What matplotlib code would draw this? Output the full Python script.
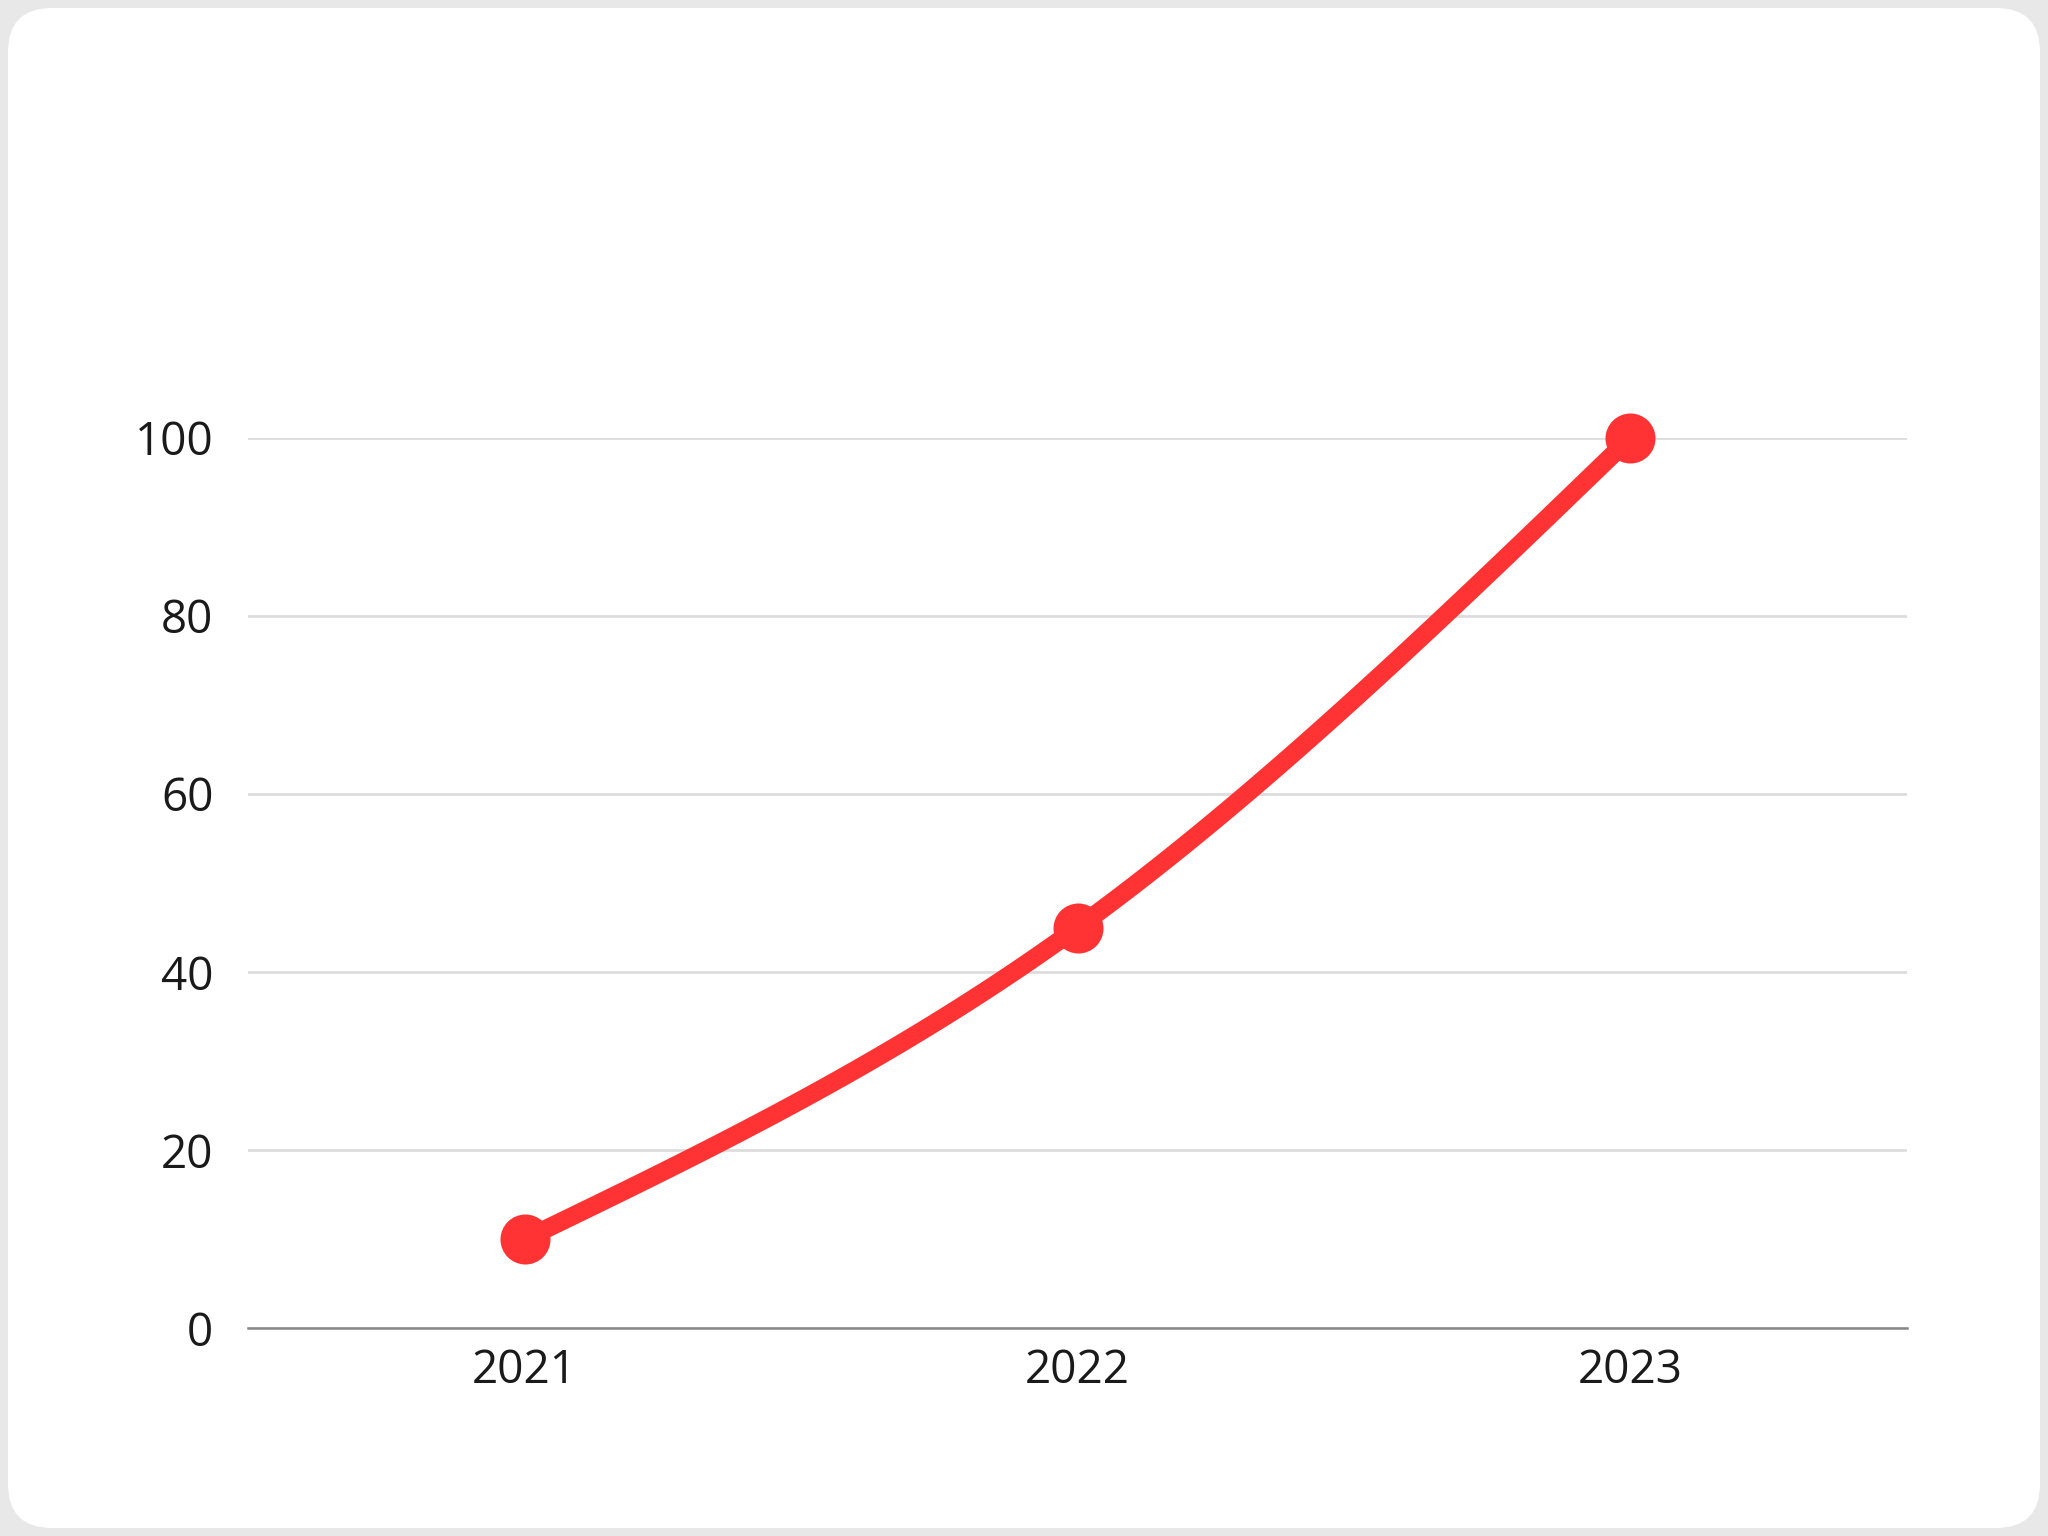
import numpy as np
import matplotlib
matplotlib.use("Agg")
import matplotlib.pyplot as plt
from matplotlib.patches import FancyBboxPatch

categories = ["2021", "2022", "2023"]
values = [10, 45, 100]
yticks = [0, 20, 40, 60, 80, 100]

plt.rcParams['font.family'] = ['Open Sans', 'DejaVu Sans']

fig = plt.figure(figsize=(10.24, 7.68), dpi=200)
fig.patch.set_facecolor('#e8e8e8')

bg = fig.add_axes([0, 0, 1, 1], zorder=-5)
bg.set_xlim(0, 2048)
bg.set_ylim(0, 1536)
bg.axis('off')
bg.add_patch(FancyBboxPatch((8, 8), 2048 - 16, 1536 - 16,
                            boxstyle="round,pad=0,rounding_size=44",
                            facecolor='white', edgecolor='none'))

ax = fig.add_axes([0.1212, 0.1352, 0.9311 - 0.1212, 0.7151 - 0.1352])
ax.set_facecolor('none')

x = np.arange(len(values), dtype=float)
y = np.array(values, dtype=float)

# monotone cubic (d3 curveMonotoneX) tangents
h = np.diff(x)
s = np.diff(y) / h
t = np.zeros_like(y)
for i in range(1, len(y) - 1):
    p = (s[i-1] * h[i] + s[i] * h[i-1]) / (h[i-1] + h[i])
    t[i] = (np.sign(s[i-1]) + np.sign(s[i])) * min(abs(s[i-1]), abs(s[i]), 0.5 * abs(p))
t[0] = (3 * s[0] - t[1]) / 2
t[-1] = (3 * s[-1] - t[-2]) / 2

xs, ys = [], []
for i in range(len(y) - 1):
    u = np.linspace(0, 1, 60)
    h00 = 2*u**3 - 3*u**2 + 1
    h10 = u**3 - 2*u**2 + u
    h01 = -2*u**3 + 3*u**2
    h11 = u**3 - u**2
    xs.append(x[i] + u * h[i])
    ys.append(h00*y[i] + h10*h[i]*t[i] + h01*y[i+1] + h11*h[i]*t[i+1])
xs = np.concatenate(xs)
ys = np.concatenate(ys)

red = '#ff3333'
ax.plot(xs, ys, color=red, lw=6.6, solid_capstyle='round', zorder=3, clip_on=False)
ax.plot(x, y, 'o', color=red, markersize=17, zorder=4, clip_on=False)

ax.set_xlim(-0.5, len(values) - 0.5)
ax.set_ylim(0, 100)
ax.set_yticks(yticks)
ax.set_yticklabels([str(v) for v in yticks])
ax.set_xticks(x)
ax.set_xticklabels(categories)
ax.grid(axis='y', color='#dddddd', lw=1.0)
ax.grid(axis='x', visible=False)
ax.set_axisbelow(True)
for side in ['top', 'right', 'left']:
    ax.spines[side].set_visible(False)
ax.spines['bottom'].set_color('#888888')
ax.spines['bottom'].set_linewidth(0.9)
ax.spines['bottom'].set_zorder(2)
ax.tick_params(axis='both', length=0, labelsize=16.5, colors='#1a1a1a')
ax.tick_params(axis='y', pad=12.5)
ax.tick_params(axis='x', pad=7)

fig.savefig('out.png', dpi=200, facecolor=fig.get_facecolor())
